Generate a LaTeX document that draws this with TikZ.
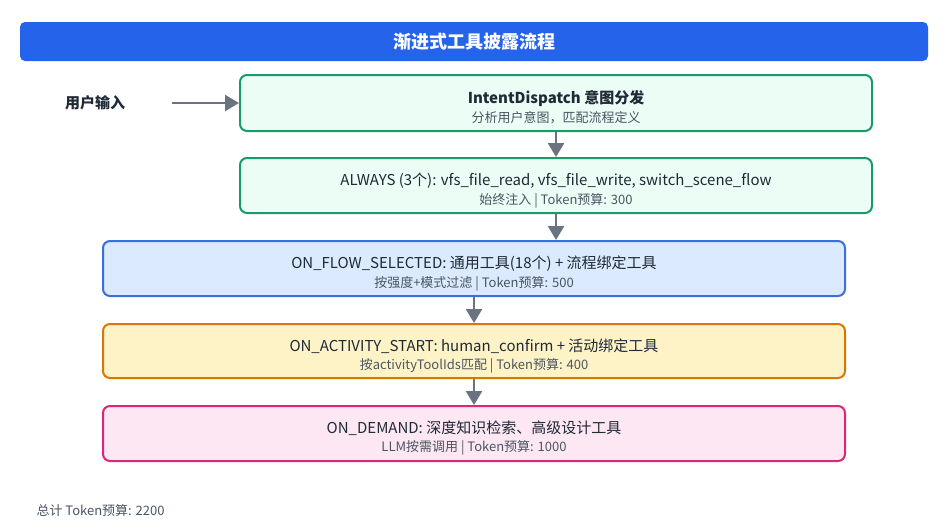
\documentclass[tikz,border=0pt]{standalone}
\usepackage{fontspec}
\setmainfont{Noto Sans CJK SC}
\usetikzlibrary{arrows.meta}
\definecolor{titleblue}{HTML}{2563EB}
\definecolor{arrowgray}{HTML}{6B7280}
\definecolor{greenline}{HTML}{169B6B}
\definecolor{greenfill}{HTML}{ECFDF5}
\definecolor{blueline}{HTML}{3B6FE0}
\definecolor{bluefill}{HTML}{DBEAFE}
\definecolor{orangeline}{HTML}{D97706}
\definecolor{orangefill}{HTML}{FEF3C7}
\definecolor{pinkline}{HTML}{DB2777}
\definecolor{pinkfill}{HTML}{FCE7F3}
\definecolor{textdark}{HTML}{1F2937}
\definecolor{textsub}{HTML}{4B5563}
\newcommand{\stagetext}[2]{{\fontsize{15}{17}\selectfont\rule{0pt}{22pt}#1}\\[4pt]{\fontsize{13}{15}\selectfont\color{textsub}#2}}
\tikzset{
  stage/.style={draw, line width=2pt, rounded corners=7pt, align=center, inner sep=0pt, text=textdark},
  flow/.style={draw=arrowgray, line width=2.5pt, -{Triangle[width=16pt,length=14pt]}}
}
\begin{document}
\begin{tikzpicture}[x=1pt, y=-1pt]
      \useasboundingbox[fill=white] (0,0) rectangle (944,530);

      \node[fill=titleblue, rounded corners=5pt, minimum width=908pt, minimum height=39pt, text=white, font=\fontsize{18}{20}\selectfont\bfseries] (T) at (474, 41.5) {渐进式工具披露流程};

      \node[font=\fontsize{15}{17}\selectfont\bfseries, text=textdark] (U) at (95, 103) {用户输入};

      \node[stage, draw=greenline, fill=greenfill, minimum width=632pt, minimum height=56pt] (I) at (556, 103)
        {\stagetext{\textbf{IntentDispatch 意图分发}}{分析用户意图，匹配流程定义}};
      \node[stage, draw=greenline, fill=greenfill, minimum width=632pt, minimum height=55pt] (A) at (556, 185.5)
        {\stagetext{ALWAYS (3个): vfs\_file\_read, vfs\_file\_write, switch\_scene\_flow}{始终注入 | Token预算: 300}};
      \node[stage, draw=blueline, fill=bluefill, minimum width=742pt, minimum height=55pt] (F) at (474, 268.5)
        {\stagetext{ON\_FLOW\_SELECTED: 通用工具(18个) + 流程绑定工具}{按强度+模式过滤 | Token预算: 500}};
      \node[stage, draw=orangeline, fill=orangefill, minimum width=742pt, minimum height=54pt] (S) at (474, 351)
        {\stagetext{ON\_ACTIVITY\_START: human\_confirm + 活动绑定工具}{按activityToolIds匹配 | Token预算: 400}};
      \node[stage, draw=pinkline, fill=pinkfill, minimum width=742pt, minimum height=55pt] (D) at (474, 433.5)
        {\stagetext{ON\_DEMAND: 深度知识检索、高级设计工具}{LLM按需调用 | Token预算: 1000}};

      \node[anchor=west, font=\fontsize{13}{15}\selectfont, text=textsub] (Sum) at (33, 511) {总计 Token预算: 2200};

      \coordinate (Ustart) at (172, 103);
      \draw[flow] (Ustart) -- (I.west);
      \draw[flow] (I.south) -- (A.north);
      \draw[flow] (A.south) -- (A.south |- F.north);
      \draw[flow] (F.south) -- (S.north);
      \draw[flow] (S.south) -- (D.north);
\end{tikzpicture}
\end{document}
